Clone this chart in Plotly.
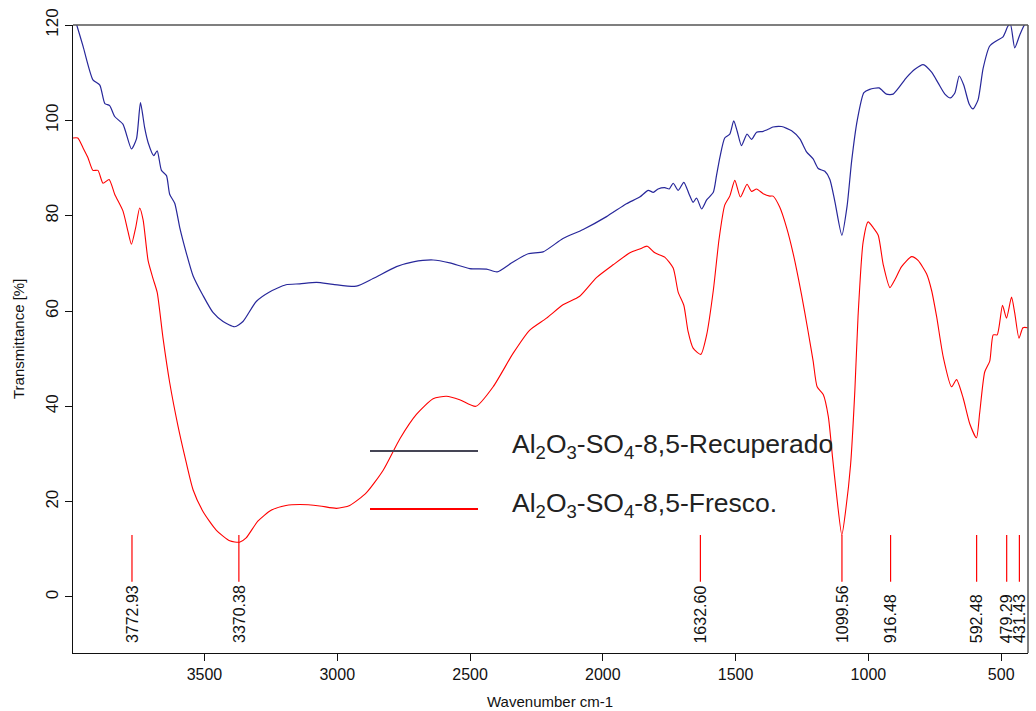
import plotly.graph_objects as go

# ---------------- data ----------------
recuperado_wn = [3990, 3982, 3957, 3920, 3894, 3875, 3857, 3838, 3807, 3775, 3756, 3741, 3725, 3712,
                 3691, 3678, 3662, 3643, 3631, 3612, 3593, 3568, 3543, 3505, 3468, 3430, 3386, 3355,
                 3305, 3255, 3193, 3141, 3078, 3016, 2928, 2865, 2777, 2714, 2639, 2576, 2501, 2438,
                 2398, 2338, 2281, 2225, 2150, 2074, 1986, 1911, 1861, 1829, 1810, 1792, 1767, 1750,
                 1735, 1716, 1695, 1675, 1660, 1647, 1628, 1609, 1584, 1572, 1559, 1541, 1522, 1507,
                 1494, 1478, 1457, 1440, 1421, 1396, 1371, 1359, 1327, 1289, 1258, 1233, 1208, 1189,
                 1164, 1145, 1126, 1100, 1080, 1063, 1042, 1017, 995, 960, 932, 907, 856, 825, 794,
                 762, 737, 712, 691, 674, 658, 641, 621, 606, 587, 568, 543, 517, 493, 474, 465, 449,
                 430, 411, 398]
recuperado_t = [121.5, 120.2, 115.5, 108.5, 107.4, 103.5, 103.1, 100.8, 99.2, 94.0, 96.1, 103.7, 98.4, 95.3,
                92.6, 93.6, 89.5, 88.4, 84.5, 82.6, 77.5, 72.1, 67.4, 63.2, 59.7, 57.8, 56.7, 57.8,
                62.0, 64.0, 65.5, 65.7, 66.0, 65.6, 65.2, 66.8, 69.3, 70.3, 70.7, 70.1, 68.9, 68.8,
                68.2, 70.3, 72.0, 72.4, 75.2, 77.1, 79.8, 82.5, 83.9, 85.3, 84.9, 85.6, 85.9, 85.6,
                86.8, 85.3, 87.0, 84.5, 82.8, 83.7, 81.4, 83.3, 84.9, 88.4, 92.3, 96.3, 97.1, 99.9,
                97.7, 94.7, 97.1, 96.0, 97.5, 97.7, 98.3, 98.6, 98.7, 97.8, 96.1, 93.4, 91.9, 89.9,
                89.3, 87.6, 82.9, 75.9, 82.1, 91.5, 100.0, 105.8, 106.5, 106.8, 105.5, 105.5, 109.0, 110.7, 111.7,
                110.1, 107.8, 105.5, 104.7, 105.8, 109.3, 107.4, 103.5, 102.4, 104.3, 110.9, 115.6, 116.7, 117.5, 119.8, 120.1, 115.2,
                117.9, 120.1, 120.2]

fresco_wn = [3995, 3977, 3957, 3939, 3920, 3901, 3882, 3859, 3838, 3807, 3788, 3775, 3759, 3744, 3731,
             3712, 3693, 3678, 3656, 3631, 3599, 3574, 3543, 3505, 3455, 3405, 3368, 3343, 3299, 3249,
             3193, 3141, 3066, 3003, 2953, 2890, 2827, 2764, 2702, 2639, 2589, 2539, 2478, 2413, 2338,
             2275, 2212, 2150, 2087, 2024, 1961, 1898, 1861, 1833, 1804, 1767, 1735, 1716, 1695, 1679,
             1660, 1631, 1609, 1584, 1562, 1541, 1522, 1503, 1482, 1457, 1440, 1421, 1396, 1371, 1359,
             1334, 1308, 1283, 1252, 1227, 1208, 1193, 1170, 1151, 1135, 1120, 1100, 1085, 1067, 1051,
             1039, 1020, 1001, 982, 963, 944, 919, 900, 875, 837, 813, 781, 762, 743, 718, 687, 668,
             643, 618, 593, 581, 562, 543, 530, 515, 495, 480, 461, 449, 433, 418, 400]
fresco_t = [96.3, 96.3, 94.2, 92.2, 89.5, 89.5, 86.8, 87.6, 84.5, 81.0, 76.7, 74.0, 77.5, 81.6, 79.1,
            70.5, 66.7, 63.9, 54.3, 45.0, 35.7, 29.5, 22.5, 17.9, 14.0, 11.8, 11.5, 12.4, 15.9, 18.2,
            19.2, 19.4, 19.1, 18.6, 19.2, 21.9, 26.6, 33.2, 38.3, 41.6, 42.1, 41.4, 40.0, 44.1, 51.1,
            56.0, 58.5, 61.3, 63.1, 67.0, 69.7, 72.2, 73.0, 73.6, 72.2, 71.3, 69.0, 63.9, 61.2, 55.7,
            52.2, 50.9, 55.0, 64.3, 75.2, 82.2, 84.1, 87.4, 83.9, 86.6, 85.1, 85.6, 84.6, 84.1, 84.1,
            81.8, 77.5, 72.0, 63.5, 55.7, 49.5, 44.1, 42.5, 37.9, 29.3, 21.5, 13.0, 18.4, 27.8, 43.3,
            58.8, 74.4, 78.7, 77.5, 75.9, 69.7, 64.9, 66.6, 69.3, 71.4, 70.6, 67.8, 64.3, 58.8, 50.3, 44.1, 45.6,
            41.7, 36.3, 33.4, 38.6, 47.2, 49.5, 55.0, 55.0, 61.2, 58.5, 62.9, 59.6, 54.3, 56.5, 56.5]

peak_wn = [3772.93, 3370.38, 1632.60, 1099.56, 916.48, 592.48, 479.29, 431.43]

series_names = ["Al<sub>2</sub>O<sub>3</sub>-SO<sub>4</sub>-8,5-Recuperado",
                "Al<sub>2</sub>O<sub>3</sub>-SO<sub>4</sub>-8,5-Fresco."]

x_ticks = [3500, 3000, 2500, 2000, 1500, 1000, 500]
y_ticks = [0, 20, 40, 60, 80, 100, 120]

# ---------------- styling ----------------
BLUE = "#27279a"
RED = "#ff0000"
FONT = "Liberation Sans, Arial, sans-serif"
MARK_TOP, MARK_BOTTOM, LABEL_Y = 13.0, 3.2, -10.1

# plot-area geometry (px) used to place paper-referenced items
W, H = 1036, 711
L, R, T, B = 73, 8, 25, 58
PW, PH = W - L - R, H - T - B


def px_to_paper(xp, yp):
    return (xp - L) / PW, (H - B - yp) / PH


fig = go.Figure()
fig.add_trace(go.Scatter(x=recuperado_wn, y=recuperado_t, mode="lines",
                         line=dict(color=BLUE, width=1.2, shape="spline", smoothing=0.6),
                         showlegend=False, hoverinfo="skip"))
fig.add_trace(go.Scatter(x=fresco_wn, y=fresco_t, mode="lines",
                         line=dict(color=RED, width=1.1, shape="spline", smoothing=0.6),
                         showlegend=False, hoverinfo="skip"))

# peak marker lines
mx, my = [], []
for w in peak_wn:
    mx += [w, w, None]
    my += [MARK_BOTTOM, MARK_TOP, None]
fig.add_trace(go.Scatter(x=mx, y=my, mode="lines", line=dict(color=RED, width=1.2),
                         showlegend=False, hoverinfo="skip"))

annotations = []
for w in peak_wn:
    annotations.append(dict(x=w, y=LABEL_Y, xref="x", yref="y", text=f"{w:.2f}",
                            textangle=-90, showarrow=False, xanchor="center", yanchor="bottom",
                            font=dict(family=FONT, size=16, color="#111111")))

# manual legend
legend_colors = ["#454555", RED]
legend_line_y = [451, 509]
legend_text_y = [446, 505]
shapes = []
for name, col, ly, ty in zip(series_names, legend_colors, legend_line_y, legend_text_y):
    x0, y0 = px_to_paper(370, ly)
    x1, _ = px_to_paper(478, ly)
    shapes.append(dict(type="line", xref="paper", yref="paper", x0=x0, x1=x1,
                       y0=y0, y1=y0, line=dict(color=col, width=2.2), layer="above"))
    tx, tyy = px_to_paper(510, ty)
    annotations.append(dict(x=tx, y=tyy, xref="paper", yref="paper", text=name,
                            showarrow=False, xanchor="left", yanchor="middle",
                            font=dict(family=FONT, size=26.5, color="#222222")))

# axis titles
ax_x, ax_y = px_to_paper(550, 701)
annotations.append(dict(x=ax_x, y=ax_y, xref="paper", yref="paper",
                        text="Wavenumber cm-1", showarrow=False, xanchor="center", yanchor="middle",
                        font=dict(family=FONT, size=15, color="#111111")))
ay_x, ay_y = px_to_paper(18, 339)
annotations.append(dict(x=ay_x, y=ay_y, xref="paper", yref="paper",
                        text="Transmittance [%]", showarrow=False, xanchor="center", yanchor="middle",
                        textangle=-90, font=dict(family=FONT, size=15, color="#111111")))

# top/right frame
shapes.append(dict(type="line", xref="paper", yref="paper", x0=0, x1=1, y0=1, y1=1,
                   line=dict(color="#555555", width=1.5)))
shapes.append(dict(type="line", xref="paper", yref="paper", x0=1, x1=1, y0=0, y1=1,
                   line=dict(color="#555555", width=1.5)))

fig.update_layout(
    width=W, height=H,
    margin=dict(l=L, r=R, t=T, b=B),
    paper_bgcolor="white", plot_bgcolor="white",
    annotations=annotations, shapes=shapes,
    font=dict(family=FONT, color="#111111"),
    xaxis=dict(range=[3995, 399], tickvals=x_ticks, ticks="outside", ticklen=7,
               tickcolor="#111111", showgrid=False, zeroline=False, showline=True,
               linecolor="#111111", linewidth=1.3, tickfont=dict(size=16, family=FONT)),
    yaxis=dict(range=[-11.75, 120], tickvals=y_ticks, ticks="outside", ticklen=7,
               tickcolor="#111111", showgrid=False, zeroline=False, showline=True,
               linecolor="#111111", linewidth=1.3, tickangle=-90,
               tickfont=dict(size=17, family=FONT)),
)

fig.write_html("out.html")
